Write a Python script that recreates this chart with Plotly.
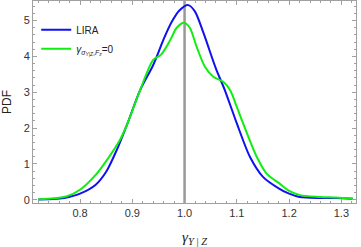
import plotly.graph_objects as go

# LIRA curve
lira_x = [0.720, 0.750, 0.770, 0.800, 0.830, 0.850, 0.870, 0.890, 0.915, 0.940, 0.960, 0.975,
          0.990, 1.007, 1.020, 1.036, 1.060, 1.077, 1.100, 1.125, 1.150, 1.180, 1.200, 1.220,
          1.260, 1.290, 1.322]
lira_y = [0.01, 0.02, 0.05, 0.17, 0.42, 0.78, 1.38, 2.10, 3.06, 3.76, 4.48, 4.95,
          5.28, 5.43, 5.25, 4.66, 3.66, 3.06, 2.13, 1.20, 0.64, 0.32, 0.17, 0.08,
          0.05, 0.05, 0.03]

# gamma_{sigma,F}=0 curve
zero_x = [0.720, 0.750, 0.775, 0.800, 0.832, 0.851, 0.876, 0.890, 0.915, 0.940, 0.955, 0.972,
          0.985, 0.999, 1.010, 1.023, 1.039, 1.055, 1.074, 1.087, 1.100, 1.112, 1.138, 1.157,
          1.182, 1.200, 1.221, 1.259, 1.290, 1.322]
zero_y = [0.01, 0.04, 0.10, 0.28, 0.73, 1.10, 1.66, 2.10, 3.06, 3.90, 4.05, 4.44,
          4.80, 4.94, 4.80, 4.27, 3.71, 3.43, 3.29, 3.06, 2.59, 2.13, 1.20, 0.73,
          0.45, 0.25, 0.13, 0.08, 0.06, 0.03]

ref_x = 1.0
x_ticks = [0.8, 0.9, 1.0, 1.1, 1.2, 1.3]
x_ticklabels = ["0.8", "0.9", "1.0", "1.1", "1.2", "1.3"]
y_ticks = [0, 1, 2, 3, 4, 5]

fig = go.Figure()
fig.add_trace(go.Scatter(x=lira_x, y=lira_y, mode="lines", name="LIRA",
                         line=dict(color="#1010f0", width=2, shape="spline", smoothing=0.8)))
fig.add_trace(go.Scatter(x=zero_x, y=zero_y, mode="lines",
                         name="<i>γ</i><sub><i>σ</i><sub><i>Y</i>|<i>Z</i></sub>,<i>F</i><sub><i>z</i></sub></sub>=0",
                         line=dict(color="#10ee10", width=2, shape="spline", smoothing=0.8)))
fig.add_vline(x=ref_x, line_color="#999999", line_width=2.5, layer="below")

axis_common = dict(showline=True, linecolor="#a0a0a0", linewidth=1, mirror="allticks",
                   ticks="inside", tickcolor="#a0a0a0", ticklen=4, showgrid=False, zeroline=False,
                   automargin=False,
                   tickfont=dict(family="Liberation Sans, Arial", size=11, color="#333333"))

fig.update_xaxes(range=[0.71, 1.328], tickvals=x_ticks, ticktext=x_ticklabels,
                 minor=dict(dtick=0.02, ticks="inside", ticklen=2, tickcolor="#a0a0a0"),
                 title=dict(text="<i>γ</i><sub><i>Y</i> | <i>Z</i></sub>",
                            font=dict(family="Liberation Serif, Times New Roman", size=15, color="#222")),
                 **axis_common)
fig.update_yaxes(range=[-0.09, 5.545], tickvals=y_ticks,
                 minor=dict(dtick=0.2, ticks="inside", ticklen=2, tickcolor="#a0a0a0"),
                 title=dict(text="PDF",
                            font=dict(family="Liberation Sans, Arial", size=12, color="#222")),
                 **axis_common)

fig.update_layout(width=361, height=247, margin=dict(l=33, r=5, t=1, b=44),
                  template="none",
                  plot_bgcolor="white", paper_bgcolor="white",
                  legend=dict(x=0.01, y=0.93, xanchor="left", yanchor="top",
                              bgcolor="rgba(0,0,0,0)", itemwidth=30,
                              font=dict(family="Liberation Sans, Arial", size=10, color="#222")),
                  showlegend=True)
fig.write_html("out.html", config={"displayModeBar": False},
               post_script="document.body.style.margin='0';document.body.style.overflow='hidden';")
